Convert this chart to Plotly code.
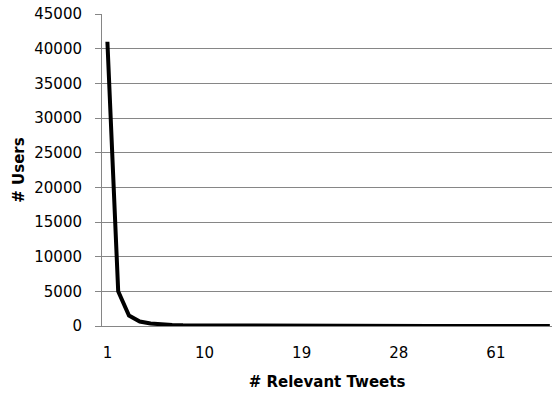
import plotly.graph_objects as go

categories = [str(v) for v in list(range(1, 34)) + [36, 42, 51, 61, 74, 89, 110, 140, 210]]
users = [41000, 5000, 1500, 650, 350, 220, 150, 110, 100, 100,
         110, 110, 100, 60, 30, 25, 20, 18, 15, 12,
         10, 9, 8, 7, 6, 6, 5, 5, 4, 4,
         3, 3, 3, 8, 6, 5, 4, 3, 3, 2, 2, 1]
x_tick_labels = ["1", "10", "19", "28", "61"]

fig = go.Figure()
fig.add_trace(go.Scatter(x=categories, y=users, mode="lines",
                         line=dict(color="black", width=4), showlegend=False))

fig.update_layout(
    width=552, height=394,
    margin=dict(l=102, r=0, t=14, b=68),
    plot_bgcolor="white", paper_bgcolor="white",
    font=dict(family="DejaVu Sans", size=15, color="black"),
)
fig.update_xaxes(
    type="category", range=[-0.5, 41.2],
    tickmode="array", tickvals=x_tick_labels, ticktext=x_tick_labels,
    showgrid=False, showline=True, linecolor="#868686", linewidth=1,
    ticks="", ticklabelstandoff=13,
    title=dict(text="<b># Relevant Tweets</b>", font=dict(size=15), standoff=15),
)
fig.update_yaxes(
    range=[0, 45000], tickmode="linear", tick0=0, dtick=5000,
    showgrid=True, gridcolor="#868686", gridwidth=1,
    showline=True, linecolor="#868686", linewidth=1,
    ticks="outside", ticklen=6, tickcolor="#868686", ticklabelstandoff=10,
    zeroline=False, tickformat="d",
    title=dict(text="<b># Users</b>", font=dict(size=15), standoff=6),
)
fig.write_html("out.html")
